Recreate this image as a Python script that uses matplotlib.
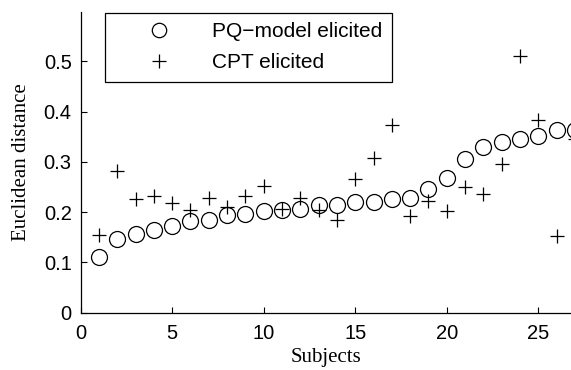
import matplotlib
matplotlib.use("Agg")
import matplotlib.pyplot as plt

subjects = list(range(1, 28))

pq_model = [0.111, 0.147, 0.156, 0.164, 0.172, 0.182, 0.184, 0.194, 0.196,
            0.203, 0.204, 0.207, 0.214, 0.215, 0.221, 0.221, 0.226, 0.229,
            0.246, 0.268, 0.306, 0.330, 0.340, 0.345, 0.351, 0.363, 0.364]

cpt = [0.154, 0.282, 0.227, 0.233, 0.219, 0.205, 0.228, 0.211, 0.232,
       0.252, 0.207, 0.229, 0.204, 0.184, 0.265, 0.307, 0.373, 0.192,
       0.222, 0.202, 0.249, 0.236, 0.295, 0.511, 0.383, 0.152, 0.346]

x_ticks = [0, 5, 10, 15, 20, 25]
y_ticks = [0, 0.1, 0.2, 0.3, 0.4, 0.5]
y_tick_labels = ["0", "0.1", "0.2", "0.3", "0.4", "0.5"]

SANS = "Liberation Sans"
SERIF = "Liberation Serif"

fig = plt.figure(figsize=(5.71, 3.70), dpi=100)
ax = fig.add_axes([0.1413, 0.1549, 0.8587, 0.8127])

ax.plot(subjects, pq_model, linestyle="none", marker="o", markersize=11.5,
        markerfacecolor="none", markeredgecolor="black", markeredgewidth=0.9,
        label="PQ\u2212model elicited")
ax.plot(subjects, cpt, linestyle="none", marker="+", markersize=10.5,
        color="black", markeredgewidth=0.9, label="CPT elicited")

ax.set_xlim(0, 26.79)
ax.set_ylim(0, 0.598)
ax.set_xticks(x_ticks)
ax.set_xticklabels([str(t) for t in x_ticks], fontfamily=SANS, fontsize=14.5)
ax.set_yticks(y_ticks)
ax.set_yticklabels(y_tick_labels, fontfamily=SANS, fontsize=14.5)
ax.tick_params(direction="in", length=4.5, width=0.8)
ax.tick_params(axis="x", pad=8)
ax.tick_params(axis="y", pad=6.5)

ax.spines["top"].set_visible(False)
ax.spines["right"].set_visible(False)
for s in ("left", "bottom"):
    ax.spines[s].set_linewidth(0.9)

ax.set_xlabel("Subjects", fontfamily=SERIF, fontsize=15)
ax.set_ylabel("Euclidean distance", fontfamily=SERIF, fontsize=15)
ax.xaxis.set_label_coords(0.5, -0.117)
ax.yaxis.set_label_coords(-0.101, 0.5)

leg = ax.legend(loc="upper left", bbox_to_anchor=(0.049, 0.997), borderaxespad=0,
                prop={"family": SANS, "size": 15}, fancybox=False,
                edgecolor="black", framealpha=1, handletextpad=0.38,
                handlelength=4.33, borderpad=0.45, labelspacing=0.58,
                markerscale=0.9)
leg.get_frame().set_linewidth(0.9)

fig.savefig("out.png", dpi=100)
